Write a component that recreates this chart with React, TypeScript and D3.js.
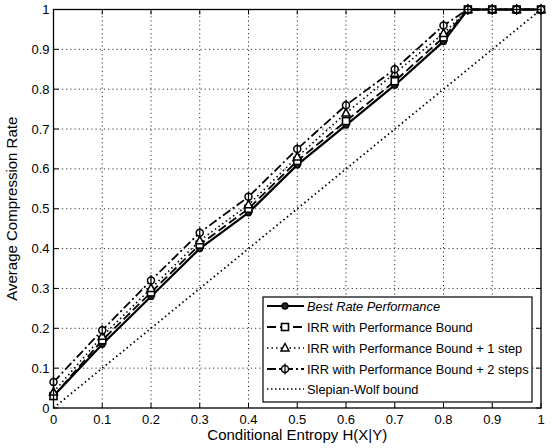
import React from "react";
import * as d3 from "d3";

const entropy = [0, 0.1, 0.2, 0.3, 0.4, 0.5, 0.6, 0.7, 0.8, 0.85, 0.9, 0.95, 1.0];
const bestRate = [0.03, 0.16, 0.28, 0.40, 0.49, 0.61, 0.71, 0.81, 0.92, 1.0, 1.0, 1.0, 1.0];
const irrBound = [0.03, 0.17, 0.29, 0.41, 0.50, 0.62, 0.72, 0.82, 0.93, 1.0, 1.0, 1.0, 1.0];
const irrStep1 = [0.04, 0.18, 0.30, 0.42, 0.51, 0.63, 0.74, 0.84, 0.94, 1.0, 1.0, 1.0, 1.0];
const irrStep2 = [0.065, 0.195, 0.32, 0.44, 0.53, 0.65, 0.76, 0.85, 0.96, 1.0, 1.0, 1.0, 1.0];
const swX = [0, 1];
const swY = [0, 1];

const xTicks = [0, 0.1, 0.2, 0.3, 0.4, 0.5, 0.6, 0.7, 0.8, 0.9, 1];
const yTicks = [0, 0.1, 0.2, 0.3, 0.4, 0.5, 0.6, 0.7, 0.8, 0.9, 1];
const seriesNames = [
  "Best Rate Performance",
  "IRR with Performance Bound",
  "IRR with Performance Bound + 1 step",
  "IRR with Performance Bound + 2 steps",
  "Slepian-Wolf bound",
];

const FONT = "'Liberation Sans', Arial, sans-serif";

type Marker = "circle" | "square" | "triangle" | "diamond" | "none";

function MarkerShape({ type, x, y }: { type: Marker; x: number; y: number }) {
  if (type === "circle")
    return <circle cx={x} cy={y} r={3} fill="#222" stroke="#000" strokeWidth={1.3} />;
  if (type === "square")
    return <rect x={x - 3.5} y={y - 3.5} width={7} height={7} fill="#fff" stroke="#000" strokeWidth={1.6} />;
  if (type === "triangle")
    return (
      <path d={`M${x},${y - 4.5}L${x + 4},${y + 3}L${x - 4},${y + 3}Z`} fill="#fff" stroke="#000" strokeWidth={1.5} />
    );
  if (type === "diamond")
    return (
      <g>
        <circle cx={x} cy={y} r={3.5} fill="#fff" stroke="#000" strokeWidth={1.5} />
        <line x1={x} y1={y - 5.5} x2={x} y2={y + 5.5} stroke="#000" strokeWidth={1.3} />
      </g>
    );
  return null;
}

export default function App() {
  const W = 554;
  const H = 448;
  const x = d3.scaleLinear().domain([0, 1]).range([53.5, 541]);
  const y = d3.scaleLinear().domain([0, 1]).range([408, 9.5]);

  const series: { ys: number[]; dash: string; marker: Marker; width: number }[] = [
    { ys: bestRate, dash: "none", marker: "circle", width: 2.2 },
    { ys: irrBound, dash: "9,4", marker: "square", width: 1.8 },
    { ys: irrStep1, dash: "1.5,3", marker: "triangle", width: 1.6 },
    { ys: irrStep2, dash: "9,3,2,3", marker: "diamond", width: 1.8 },
  ];

  const lineGen = (ys: number[]) =>
    d3
      .line<number>()
      .x((_, i) => x(entropy[i]))
      .y((d) => y(d))(ys) || "";

  const swPath =
    d3
      .line<number>()
      .x((_, i) => x(swX[i]))
      .y((d) => y(d))(swY) || "";

  const legX = 263;
  const legY = 297;
  const legW = 269;
  const legH = 105;
  const rowY = [306, 327, 348, 369, 389];

  const legendStyles = [
    { dash: "none", marker: "circle" as Marker, width: 2.2 },
    { dash: "9,4", marker: "square" as Marker, width: 1.8 },
    { dash: "1.5,3", marker: "triangle" as Marker, width: 1.6 },
    { dash: "9,3,2,3", marker: "diamond" as Marker, width: 1.8 },
    { dash: "1.5,2.5", marker: "none" as Marker, width: 1.6 },
  ];

  return (
    <svg width={W} height={H} style={{ display: "block", position: "absolute", left: 0, top: 0 }}>
      <rect x={0} y={0} width={W} height={H} fill="#fff" />
      {xTicks.slice(1, -1).map((t) => (
        <line key={"gx" + t} x1={x(t)} x2={x(t)} y1={y(0)} y2={y(1)} stroke="#333" strokeWidth={1} strokeDasharray="1.2,3" />
      ))}
      {yTicks.slice(1, -1).map((t) => (
        <line key={"gy" + t} x1={x(0)} x2={x(1)} y1={y(t)} y2={y(t)} stroke="#333" strokeWidth={1} strokeDasharray="1.2,3" />
      ))}
      {xTicks.map((t) => (
        <g key={"tx" + t}>
          <line x1={x(t)} x2={x(t)} y1={y(0)} y2={y(0) - 5} stroke="#000" />
          <line x1={x(t)} x2={x(t)} y1={y(1)} y2={y(1) + 5} stroke="#000" />
          <text x={x(t)} y={y(0) + 16} textAnchor="middle" fontFamily={FONT} fontSize={13} fill="#000">
            {String(t)}
          </text>
        </g>
      ))}
      {yTicks.map((t) => (
        <g key={"ty" + t}>
          <line x1={x(0)} x2={x(0) + 5} y1={y(t)} y2={y(t)} stroke="#000" />
          <line x1={x(1)} x2={x(1) - 5} y1={y(t)} y2={y(t)} stroke="#000" />
          <text x={x(0) - 4} y={y(t) + 4.5} textAnchor="end" fontFamily={FONT} fontSize={13} fill="#000">
            {String(t)}
          </text>
        </g>
      ))}
      <path d={swPath} fill="none" stroke="#000" strokeWidth={1.8} strokeDasharray="1.5,3" />
      {series.map((s, si) => (
        <g key={"s" + si}>
          <path d={lineGen(s.ys)} fill="none" stroke="#000" strokeWidth={s.width} strokeDasharray={s.dash} />
          {s.ys.map((v, i) => (
            <MarkerShape key={i} type={s.marker} x={x(entropy[i])} y={y(v)} />
          ))}
        </g>
      ))}
      <rect x={x(0)} y={y(1)} width={x(1) - x(0)} height={y(0) - y(1)} fill="none" stroke="#000" strokeWidth={1.3} />
      <rect x={legX} y={legY} width={legW} height={legH} fill="#fff" stroke="#000" strokeWidth={1.2} />
      {seriesNames.map((name, i) => (
        <g key={"l" + i}>
          <line x1={legX + 4} x2={legX + 41} y1={rowY[i]} y2={rowY[i]} stroke="#000" strokeWidth={legendStyles[i].width} strokeDasharray={legendStyles[i].dash} />
          <MarkerShape type={legendStyles[i].marker} x={legX + 22} y={rowY[i]} />
          <text x={legX + 44} y={rowY[i] + 4.5} fontFamily={FONT} fontSize={12.8} fontStyle={i === 0 ? "italic" : "normal"} fill="#000">
            {name}
          </text>
        </g>
      ))}
      <text x={(x(0) + x(1)) / 2} y={440} textAnchor="middle" fontFamily={FONT} fontSize={15} fill="#000">
        Conditional Entropy H(X|Y)
      </text>
      <text transform={`translate(17,${(y(0) + y(1)) / 2}) rotate(-90)`} textAnchor="middle" fontFamily={FONT} fontSize={15} fill="#000">
        Average Compression Rate
      </text>
    </svg>
  );
}
